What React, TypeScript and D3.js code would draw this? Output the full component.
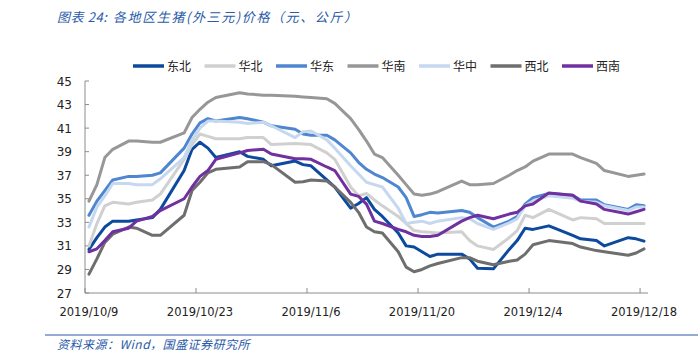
import React from "react";
import * as d3 from "d3";

const dates = ["2019/10/9","2019/10/10","2019/10/11","2019/10/12","2019/10/14","2019/10/15","2019/10/17","2019/10/18","2019/10/21","2019/10/22","2019/10/23","2019/10/24","2019/10/25","2019/10/28","2019/10/29","2019/10/31","2019/11/1","2019/11/4","2019/11/5","2019/11/6","2019/11/8","2019/11/9","2019/11/11","2019/11/12","2019/11/13","2019/11/14","2019/11/15","2019/11/17","2019/11/18","2019/11/19","2019/11/20","2019/11/21","2019/11/22","2019/11/25","2019/11/26","2019/11/27","2019/11/29","2019/12/1","2019/12/2","2019/12/3","2019/12/4","2019/12/6","2019/12/9","2019/12/10","2019/12/12","2019/12/13","2019/12/16","2019/12/17","2019/12/18"];

const dongbei = [30.7,31.7,32.6,33.1,33.1,33.2,33.4,34.1,37.4,39.2,39.8,39.3,38.5,39.0,38.6,38.35,37.8,38.2,37.9,37.8,36.6,36.0,34.2,34.6,35.1,34.1,33.5,32.1,31.0,30.9,30.5,30.1,30.3,30.3,29.9,29.1,29.05,30.7,31.45,32.5,32.4,32.7,31.9,31.6,31.45,31.0,31.7,31.6,31.4];
const huabei = [31.0,32.9,34.4,34.7,34.55,34.7,34.9,35.4,38.35,39.6,40.5,40.3,40.1,40.1,40.2,40.2,39.6,39.7,39.65,39.6,38.9,38.35,36.0,35.25,35.45,34.9,34.4,33.5,32.9,32.3,32.2,32.15,32.1,32.2,31.45,31.0,30.7,31.7,32.3,33.6,33.4,34.1,33.2,33.4,33.3,32.9,32.9,32.9,32.9];
const huadong = [33.6,34.8,35.7,36.6,36.9,36.9,37.0,37.2,39.3,40.5,41.45,41.8,41.6,41.9,41.8,41.5,41.2,40.9,40.5,40.4,40.4,40.0,38.9,38.1,37.5,37.1,36.8,36.0,35.1,33.5,33.65,33.85,33.8,34.0,33.85,33.4,32.6,33.1,33.5,34.55,35.1,35.45,35.3,34.9,34.9,34.5,34.1,34.5,34.4];
const huanan = [34.8,36.2,38.5,39.2,39.9,39.9,39.8,39.8,40.6,41.9,42.6,43.2,43.6,44.0,43.9,43.8,43.8,43.7,43.65,43.6,43.5,43.1,41.8,40.9,39.9,38.8,38.5,37.0,36.2,35.4,35.3,35.4,35.6,36.5,36.2,36.2,36.3,37.0,37.4,37.7,38.2,38.8,38.8,38.5,38.0,37.4,36.9,37.0,37.1];
const huazhong = [32.6,34.3,35.25,36.3,36.3,36.2,36.2,36.7,38.5,40.0,41.0,41.6,41.6,41.5,41.4,41.5,41.2,40.2,40.7,40.75,40.0,39.3,37.8,37.1,36.4,36.2,36.0,34.2,32.9,33.0,33.1,32.9,33.1,33.4,33.3,32.9,32.4,32.95,33.3,34.4,34.8,35.25,35.05,34.8,34.7,34.4,34.0,34.3,34.3];
const xibei = [28.6,29.9,31.3,32.0,32.6,32.5,31.9,31.9,33.6,35.7,36.4,37.2,37.5,37.7,38.15,38.15,37.9,36.4,36.45,36.6,36.5,36.0,34.7,33.85,32.6,32.2,32.1,30.5,29.2,28.8,29.0,29.3,29.5,30.0,30.0,29.7,29.4,29.7,29.8,30.3,31.1,31.45,31.2,30.9,30.6,30.5,30.2,30.4,30.75];
const xinan = [30.5,30.75,31.45,32.2,32.5,33.1,33.5,34.0,35.0,36.0,36.9,37.4,38.35,38.9,39.1,39.2,38.8,38.4,38.4,38.35,37.7,37.4,35.4,35.2,34.55,33.1,32.9,32.4,32.2,31.9,31.8,31.8,31.9,33.1,33.4,33.6,33.3,33.7,33.85,34.4,34.55,35.5,35.3,34.8,34.55,34.1,33.7,33.9,34.1];

const seriesNames = ["东北", "华北", "华东", "华南", "华中", "西北", "西南"];
const seriesValues = [dongbei, huabei, huadong, huanan, huazhong, xibei, xinan];
const seriesColors = ["#0D4A9E", "#D0D0D0", "#4E86CF", "#979797", "#C5D8EF", "#6E6E6E", "#7030A0"];

const xTickLabels = ["2019/10/9", "2019/10/23", "2019/11/6", "2019/11/20", "2019/12/4", "2019/12/18"];
const yTicks = [27, 29, 31, 33, 35, 37, 39, 41, 43, 45];

const parse = d3.timeParse("%Y/%m/%d");

export default function App() {
  const W = 698, H = 363;
  const start = parse("2019/10/9") as Date;
  const end = d3.timeDay.offset(start, 71);
  const x = d3.scaleTime().domain([start, end]).range([85, 648]);
  const y = d3.scaleLinear().domain([27, 45]).range([293, 81]);
  const center = (s: string) => d3.timeHour.offset(parse(s) as Date, 12);

  const line = d3
    .line<number>()
    .x((_, i) => x(center(dates[i])))
    .y((v) => y(v));

  const axisColor = "#8C8C8C";
  const font = "'DejaVu Sans', Verdana, sans-serif";
  const cjk = "'Noto Sans CJK SC', sans-serif";
  const blue = "#2A5AA8";

  return (
    <svg width={W} height={H} style={{ position: "absolute", left: 0, top: 0, background: "#fff" }}>
      <text x={57} y={22} fontFamily={cjk} fontSize={13} fontStyle="italic" fill={blue} letterSpacing={0.6}>
        图表 24:
      </text>
      <text x={113} y={22} fontFamily={cjk} fontSize={13} fontStyle="italic" fill={blue} letterSpacing={1.6}>
        各地区生猪(外三元)价格（元、公斤）
      </text>

      {/* legend */}
      {seriesNames.map((n, i) => {
        const lx = 133 + i * 71.5;
        return (
          <g key={n}>
            <line x1={lx} x2={lx + 31} y1={66} y2={66} stroke={seriesColors[i]} strokeWidth={3.5} />
            <text x={lx + 34} y={70.5} fontFamily={cjk} fontSize={12} fill="#222">
              {n}
            </text>
          </g>
        );
      })}

      {/* y axis */}
      <line x1={85} x2={85} y1={y(45)} y2={y(27)} stroke={axisColor} strokeWidth={1} />
      {yTicks.map((t) => (
        <g key={t}>
          <line x1={85} x2={89} y1={y(t)} y2={y(t)} stroke={axisColor} />
          <text x={72} y={y(t) + 4.5} textAnchor="end" fontFamily={font} fontSize={12} fill="#222">
            {t}
          </text>
        </g>
      ))}

      {/* x axis */}
      <line x1={85} x2={648} y1={293} y2={293} stroke={axisColor} strokeWidth={1} />
      {xTickLabels.map((s) => {
        const tx = x(parse(s) as Date);
        return (
          <g key={s}>
            <line x1={tx} x2={tx} y1={288} y2={293} stroke={axisColor} />
            <text x={x(center(s))} y={316} textAnchor="middle" fontFamily={font} fontSize={11.5} fill="#222">
              {s}
            </text>
          </g>
        );
      })}

      {/* series */}
      {seriesValues.map((vals, i) => (
        <path
          key={seriesNames[i]}
          d={line(vals) || ""}
          fill="none"
          stroke={seriesColors[i]}
          strokeWidth={3}
          strokeLinejoin="round"
          strokeLinecap="round"
        />
      ))}

      {/* footer */}
      <line x1={45} x2={698} y1={335} y2={335} stroke={blue} strokeWidth={1} />
      <text x={57} y={349} fontFamily={cjk} fontSize={12} fontStyle="italic" fill={blue} letterSpacing={0.5}>
        资料来源：Wind，国盛证券研究所
      </text>
    </svg>
  );
}
